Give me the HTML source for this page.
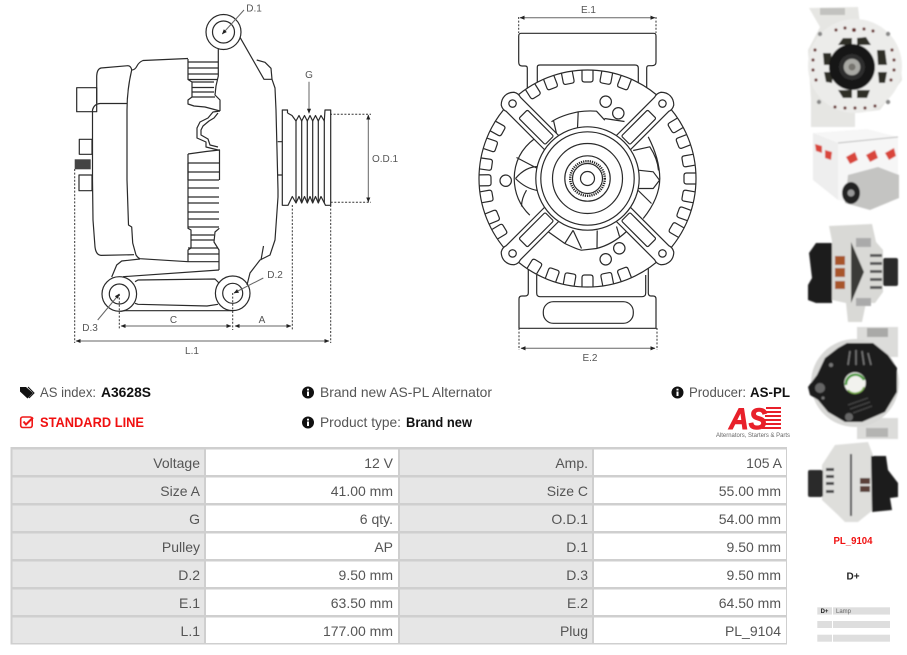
<!DOCTYPE html>
<html><head><meta charset="utf-8"><style>
html,body{margin:0;padding:0;background:#fff;width:907px;height:655px;overflow:hidden}
svg{display:block;font-family:"Liberation Sans",Arial,sans-serif}
.o{fill:none;stroke:#2a2a2a;stroke-width:1.2;stroke-linejoin:round}
.w{fill:#fff;stroke:#2a2a2a;stroke-width:1.2;stroke-linejoin:round}
.d{fill:none;stroke:#333;stroke-width:1;stroke-dasharray:2 1.6}
.a{fill:none;stroke:#666;stroke-width:1;marker-start:url(#ar);marker-end:url(#ar)}
.l{fill:#555;font-size:10px;text-anchor:middle}
.t{fill:#555;font-size:14px;text-anchor:end}
.i{fill:#555;font-size:14px}
.b{fill:#111;font-size:14px;font-weight:bold}
</style></head><body>
<svg width="907" height="655" viewBox="0 0 907 655" xmlns="http://www.w3.org/2000/svg">
<defs>
<marker id="ar" viewBox="0 0 6 6" refX="5.5" refY="3" markerWidth="5" markerHeight="5" markerUnits="userSpaceOnUse" orient="auto-start-reverse"><path d="M0,0.5L6,3L0,5.5z" fill="#222"/></marker>
<marker id="ar1" viewBox="0 0 6 6" refX="5.5" refY="3" markerWidth="5" markerHeight="5" markerUnits="userSpaceOnUse" orient="auto"><path d="M0,0.5L6,3L0,5.5z" fill="#222"/></marker>
<path id="tooth" class="o" d="M-5.5,-108V-99Q-5.5,-96.5-3,-96.5H3Q5.5,-96.5,5.5,-99V-108"/>
<g id="arm"><path class="w" d="M48,-10H105Q109,-11.5 113,-9Q117,-5 117,0Q117,5 113,9Q109,11.5 105,10H48z"/><circle class="o" cx="106" cy="0" r="3.7"/><rect class="o" x="54" y="-6" width="37" height="12" rx="1.5"/></g>
<filter id="bl"><feGaussianBlur stdDeviation="0.7"/></filter>
</defs>

<!-- LEFT DIAGRAM -->
<g>
<rect class="o" x="76.7" y="87.7" width="20" height="24"/>
<rect class="o" x="79.3" y="139.3" width="12.7" height="15"/>
<rect x="74.7" y="159.3" width="16" height="10" fill="#444"/>
<rect class="o" x="79" y="175" width="13" height="15.7"/>
<path class="o" d="M96.7,103V76Q97,69 101,68L128,65.7Q131,66 131.7,70Q135,70 137,66Q139,62 143,60.5L188,58.5"/>
<path class="o" d="M131.7,70Q127,90 127,110V180L128.5,225L131.7,227L132.7,243L136,255Q138,258 140,258.7L188,261.7"/>
<path class="o" d="M127,103.5H100Q94,104 92.5,110V180L93,220L95,247Q96,255 101,255.4L134,254.7"/>
<path class="o" d="M218.3,48V76L216,86L215,95L220,100V111"/>
<path class="o" d="M188,59V79.5L192,82V97L188,100V104L194,106L205,107L220,111"/>
<path class="o" d="M188,62H218M188,68H218M188,74H218M188,79.5H217M192,82H214M192,87.5H214M192,92H214M192,97H215"/>
<path class="o" d="M220,111L213,112L208,118L200,122L197,128V138L206,142V147L218,150H220"/>
<path class="o" d="M218,113L214,118L209,121L203,126L201,130V135L208,139L210,145L218,147"/>
<path class="o" d="M188,154L206,151.5L219.5,150V180"/>
<path class="o" d="M188,154V228.3L191,230V248L188,250V261.7M219.3,228.3L215,232L214,242L219,250V270"/>
<path class="o" d="M188,163H219M188,172H219M188,180H219M188,188H219M188,197H219M188,203H219M188,212H219M188,219H219M188,227H219M191,235H214M191,240H214M188,248H218M188,254H219M188,261.7H219M188,180V163"/>
<path class="o" d="M219,270L123,276.7"/>
<path class="o" d="M140,259L121.7,261L116.7,265L111.7,277"/>
<path class="o" d="M135,281.7L138,280L215,279L219,283M135,303.3L138,304.3L207,306L218,304.3M123,310.7H231.7"/>
<circle class="w" cx="119.3" cy="294" r="17.3"/><circle class="o" cx="119.3" cy="294" r="10"/>
<circle class="w" cx="232.7" cy="293.3" r="17.3"/><circle class="o" cx="232.7" cy="293.3" r="10"/>
<circle class="w" cx="223.5" cy="32" r="17.5"/><circle class="o" cx="223.5" cy="32" r="11"/>
<path class="o" d="M240,37.3L264,79.3H272L271,68.3L265,62.3L256.7,60M272,79.3L275,88L276,110L278,190L278,197L275,240L270,255L260,260L250,273L247,285M263.5,246L261,260"/>
<path class="o" d="M277.7,141.7H282.3M277.7,175H282.3"/>
<path class="o" d="M287.5,113L287.5,110H282.3V205.3H288L292.3,196.5L296,203L299,196.5L301.7,203L304.5,196.5L307.3,203L310,196.5L312.7,203L315.5,196.5L318.3,203L321,196.5L324.3,203L325.5,205.3H330.7V110H325L324.3,121L321,115.5L318.3,121L315.5,115.5L312.7,121L310,115.5L307.3,121L304.5,115.5L301.7,121L299,115.5L296,121L292,115.5L287.5,113"/>
<path class="o" d="M296,121V203M301.7,121V203M307.3,121V203M312.7,121V203M318.3,121V203M324.3,121V203"/>
<path class="d" d="M74.7,169V343M330.7,205V343M292.3,205V330M119.3,294V329M232.7,293V330M330,114.3H371M330.7,202.3H371"/>
<path class="a" d="M121,326H231"/><path class="a" d="M235,326H291"/><path class="a" d="M76,341H329"/>
<path class="a" d="M368.3,115V202"/>
<path fill="none" stroke="#666" d="M309,81.7V113.3" marker-end="url(#ar1)"/>
<path fill="none" stroke="#666" d="M244,10L222.3,34" marker-end="url(#ar1)"/>
<path fill="none" stroke="#666" d="M263.3,278L234,293" marker-end="url(#ar1)"/>
<path fill="none" stroke="#666" d="M97.7,320L119.3,294" marker-end="url(#ar1)"/>
<text class="l" x="254" y="11.5">D.1</text><text class="l" x="309" y="78">G</text>
<text class="l" x="385" y="162">O.D.1</text><text class="l" x="275" y="278">D.2</text>
<text class="l" x="90" y="331">D.3</text><text class="l" x="173.5" y="323">C</text>
<text class="l" x="262" y="323">A</text><text class="l" x="192" y="354">L.1</text>
</g>

<!-- RIGHT DIAGRAM -->
<g>
<path class="o" d="M527.3,90V68Q527.3,66 525,66H522Q518.7,66 518.7,62V36Q518.7,33.3 521,33.3H654Q656,33.3 656,36V62Q656,65.7 652,65.7H649Q646.7,65.7 646.7,68V90"/>
<path class="o" d="M537.3,85V67Q537.3,65 540,65H635Q638.3,65 638.3,68V85"/>
<path class="o" d="M528.3,268V293Q528.3,296 525,296H522Q519,296 519,299V328.3H656V299Q656,296 653,296H651Q648.3,296 648.3,293V268"/>
<path class="o" d="M536.7,275V293Q536.7,296.7 540,296.7H642Q645.7,296.7 645.7,293V275"/>
<rect class="o" x="543.3" y="301.7" width="90" height="21.6" rx="10"/>
<path class="d" d="M518.7,17V33M656,17V33M519,328V350M657,328V350"/>
<path class="a" d="M520,17.7H655"/><path class="a" d="M521,348.3H655"/>
<text class="l" x="588.5" y="13">E.1</text><text class="l" x="590" y="361">E.2</text>
<g transform="translate(587.5,178.5)">
<circle class="w" r="108.5"/>
<use href="#tooth" transform="rotate(-32)"/><use href="#tooth" transform="rotate(-21)"/><use href="#tooth" transform="rotate(-11)"/><use href="#tooth"/><use href="#tooth" transform="rotate(10.5)"/><use href="#tooth" transform="rotate(21)"/>
<use href="#tooth" transform="rotate(211)"/><use href="#tooth" transform="rotate(200)"/><use href="#tooth" transform="rotate(190)"/><use href="#tooth" transform="rotate(180)"/><use href="#tooth" transform="rotate(169)"/><use href="#tooth" transform="rotate(159)"/>
<use href="#tooth" transform="rotate(-61)"/><use href="#tooth" transform="rotate(-71)"/><use href="#tooth" transform="rotate(-82)"/><use href="#tooth" transform="rotate(-91)"/><use href="#tooth" transform="rotate(-100)"/><use href="#tooth" transform="rotate(-112)"/><use href="#tooth" transform="rotate(-121)"/>
<use href="#tooth" transform="rotate(59)"/><use href="#tooth" transform="rotate(69)"/><use href="#tooth" transform="rotate(80)"/><use href="#tooth" transform="rotate(90)"/><use href="#tooth" transform="rotate(100)"/><use href="#tooth" transform="rotate(110)"/><use href="#tooth" transform="rotate(120)"/>
<circle class="o" cx="18.2" cy="-76.8" r="5.7"/><circle class="o" cx="30.8" cy="-65.2" r="5.7"/><circle class="o" cx="-81.8" cy="2.2" r="5.7"/><circle class="o" cx="31.8" cy="69.8" r="5.7"/><circle class="o" cx="18.2" cy="80.8" r="5.7"/>
<!-- fan -->
<path class="o" d="M-52.7,-40Q-73,-25-73.3,0Q-73,22-57.7,36.7M-71,-21L-50,-10M-72,0Q-62,-12-49,-12M-72,0Q-62,10-50,12M-61,11.7Q-66,20-66,28"/>
<path class="o" d="M60.7,-41.7Q72,-20 72.3,0Q72,20 55.7,40M45.7,-28L62.3,-31.7Q70,-20 71,-8M50.7,-8.3L65.7,-6.7L72,1.7L65.7,10L50.7,10M50.7,12L64,25"/>
<path class="o" d="M-36,-56.7Q-27,-63-9.3,-66.7Q0,-68 9,-67.3L17.3,-58.3M-9.3,-66.7L-10,-50M-34,-58L-31,-45M17,-60L37,-57"/>
<path class="o" d="M-39.3,53.3L-22.7,65Q-10,71-6,71.7L9,70Q25,66 39,53M-14.3,51.7L-22.7,65M-14.3,52L-6,70M9.5,70L9.7,52M29,48L32,58"/>
<use href="#arm" transform="rotate(-135)"/><use href="#arm" transform="rotate(-45)"/><use href="#arm" transform="rotate(45)"/><use href="#arm" transform="rotate(135)"/>
<circle class="w" r="51.7"/><circle class="o" r="46.7"/><circle class="o" r="35"/><circle class="o" r="22.7"/>
<circle r="17.3" fill="none" stroke="#222" stroke-width="2.4" stroke-dasharray="1.2 1"/>
<circle class="o" r="15"/><circle class="o" r="7"/>
</g>
</g>

<!-- PHOTOS -->
<g filter="url(#bl)">
<!-- photo 1 -->
<path d="M809,8L858,7L860,24L900,55L902,80L880,110L855,113V127H811V100L808,50L820,27z" fill="#e6e6e3"/>
<circle cx="855" cy="66" r="47" fill="#ececea"/>
<rect x="820" y="8" width="25" height="7" fill="#c2c2bf"/>
<g fill="#2f2d28"><path d="M838,45L843,38L852,38V45z"/><path d="M857,38L866,37L871,45H857z"/><path d="M823,53H831L832,65H824z"/><path d="M824,72H833L832,83L826,82z"/><path d="M877,50H885L887,65H878z"/><path d="M878,72H887L885,83H879z"/><path d="M838,90H852V98H843z"/><path d="M857,90H870L867,98H857z"/></g>
<circle cx="852" cy="67" r="23" fill="#121212"/><circle cx="852" cy="67" r="13" fill="#2e2e2e"/><circle cx="852" cy="67" r="8.3" fill="#a9a9a4"/><circle cx="852" cy="67" r="3.5" fill="#77756f"/>
<g fill="#888"><circle cx="820" cy="34" r="2.2"/><circle cx="888" cy="34" r="2.2"/><circle cx="819" cy="102" r="2.2"/><circle cx="888" cy="102" r="2.2"/></g>
<g fill="#6b2f2a"><circle cx="836" cy="30" r="1.6"/><circle cx="845" cy="28" r="1.6"/><circle cx="854" cy="30" r="2"/><circle cx="864" cy="29" r="1.6"/><circle cx="873" cy="31" r="1.6"/><circle cx="815" cy="50" r="1.6"/><circle cx="813" cy="60" r="1.6"/><circle cx="813" cy="70" r="1.6"/><circle cx="816" cy="80" r="1.6"/><circle cx="892" cy="50" r="1.6"/><circle cx="894" cy="60" r="1.6"/><circle cx="894" cy="70" r="1.6"/><circle cx="891" cy="80" r="1.6"/><circle cx="835" cy="107" r="1.6"/><circle cx="845" cy="108" r="1.6"/><circle cx="855" cy="108" r="1.6"/><circle cx="865" cy="108" r="1.6"/><circle cx="875" cy="106" r="1.6"/></g>
<!-- photo 2 -->
<path d="M813,133L867,129L898,137V182L865,205L838,200L813,180z" fill="#f6f6f6"/>
<path d="M813,133L838,143V200L813,180z" fill="#eeeeee"/>
<path d="M838,143L898,137" stroke="#bbb" fill="none"/>
<g fill="#d9453a"><path d="M846,157L855,152L858,160L850,164z"/><path d="M866,155L875,150L878,158L870,162z"/><path d="M885,153L894,148L896,156L889,160z"/><path d="M815,144L822,146L822,153L816,151z"/><path d="M825,150L832,152L831,160L825,158z"/></g>
<path d="M848,175L878,167L899,175V198L870,210L845,203z" fill="#c4c4c2"/>
<ellipse cx="851" cy="193" rx="9" ry="11" fill="#222"/><circle cx="851" cy="193" r="3.5" fill="#999"/>
<!-- photo 3 -->
<path d="M829,226L872,224L876,242L883,250V292L875,303H866L862,322H848L846,303L832,300V241z" fill="#d9d9d6"/>
<path d="M809,253L816,243H832V303H816L808,300V285L812,278z" fill="#1c1c1c"/>
<rect x="883" y="258" width="15" height="28" rx="2" fill="#2c2c2c"/>
<path d="M851,242V303L864,272z" fill="#3a3a38"/>
<g fill="#a8552c"><rect x="835" y="256" width="10" height="9"/><rect x="835" y="268" width="10" height="9"/><rect x="835" y="281" width="10" height="8"/></g>
<g fill="#555"><rect x="870" y="254" width="12" height="3"/><rect x="870" y="262" width="12" height="3"/><rect x="870" y="270" width="12" height="3"/><rect x="870" y="278" width="12" height="3"/><rect x="870" y="286" width="12" height="3"/></g>
<rect x="856" y="238" width="15" height="9" fill="#aaa"/><rect x="856" y="298" width="15" height="8" fill="#aaa"/>
<!-- photo 4 -->
<rect x="857" y="327" width="41" height="30" fill="#dcdcda"/><rect x="867" y="328" width="21" height="9" fill="#a9a9a7"/>
<rect x="857" y="418" width="41" height="21" fill="#dcdcda"/><rect x="866" y="428" width="22" height="9" fill="#b4b4b2"/>
<circle cx="855" cy="383" r="44" fill="#d8d8d6"/>
<path d="M808,387L817,375L825,358L838,348L847,343L873,343L888,355L897,368L897,392L885,412L862,422L845,422L828,412L818,400L810,395z" fill="#1c1c1c"/>
<circle cx="855" cy="383" r="10.7" fill="#f2f2ee"/><path d="M846,385A9.5,9.5 0 0 1 864,380" fill="none" stroke="#4a9a3a" stroke-width="2.5"/><path d="M864,387A9.5,9.5 0 0 1 848,390" fill="none" stroke="#7ab04a" stroke-width="1.5"/>
<circle cx="820" cy="388" r="5" fill="#666"/><circle cx="849" cy="417" r="4" fill="#666"/><circle cx="823" cy="398" r="1.5" fill="#777"/><circle cx="831" cy="365" r="2" fill="#777"/>
<path d="M850,351L848,365M856,350V365M862,351L864,365M868,353L871,365" stroke="#777" stroke-width="1.5" fill="none"/>
<path d="M848,405L868,398M850,409L870,402M853,413L872,406" stroke="#444" stroke-width="1.2" fill="none"/>
<!-- photo 5 -->
<path d="M835,445L868,442L873,455V510L858,522H845L838,515L822,500V465z" fill="#dededb"/>
<rect x="808" y="470" width="15" height="27" rx="2" fill="#2a2a2a"/>
<path d="M871,456H886L888,470L898,483V497L890,498L892,510L872,512z" fill="#1e1e1e"/>
<rect x="850" y="454" width="2" height="62" fill="#444"/>
<g fill="#5a4038"><rect x="860" y="478" width="10" height="6"/><rect x="860" y="486" width="10" height="6"/></g>
<g fill="#444"><rect x="826" y="468" width="8" height="3"/><rect x="826" y="475" width="8" height="3"/><rect x="826" y="482" width="8" height="3"/><rect x="826" y="490" width="8" height="3"/></g>
</g>
<text x="853" y="544" fill="#f01010" font-size="10.5" font-weight="bold" text-anchor="middle" textLength="39" lengthAdjust="spacingAndGlyphs">PL_9104</text>
<text x="853" y="579.5" fill="#222" font-size="10" font-weight="bold" text-anchor="middle">D+</text>
<g fill="#dedede"><rect x="817.3" y="607.3" width="14.7" height="7.3"/><rect x="833" y="607.3" width="57" height="7.3"/><rect x="817.3" y="621" width="14.7" height="7"/><rect x="833" y="621" width="57" height="7"/><rect x="817.3" y="634.7" width="14.7" height="7"/><rect x="833" y="634.7" width="57" height="7"/></g>
<text x="824.5" y="613" fill="#222" font-size="6" font-weight="bold" text-anchor="middle">D+</text>
<text x="836" y="613" fill="#666" font-size="6">Lamp</text>

<!-- INFO ROWS -->
<path d="M20,387H26L33,393L27.5,398.5L20,391.5z" fill="#111"/>
<path d="M28,387L34,393L29,398" fill="none" stroke="#111"/>
<text class="i" x="40" y="397" textLength="56" lengthAdjust="spacingAndGlyphs">AS index:</text>
<text class="b" x="101" y="397" textLength="50" lengthAdjust="spacingAndGlyphs">A3628S</text>
<rect x="20.7" y="417" width="11.5" height="10.5" rx="2" fill="none" stroke="#f01818" stroke-width="1.6"/>
<path d="M23.5,421.5L26,424.5L33,417.5" fill="none" stroke="#f01818" stroke-width="2"/>
<text x="40" y="427" fill="#f01010" font-size="14" font-weight="bold" textLength="104" lengthAdjust="spacingAndGlyphs">STANDARD LINE</text>
<circle cx="308" cy="392.5" r="6" fill="#111"/><rect x="307" y="391.5" width="2" height="4.5" fill="#fff"/><rect x="307" y="388.7" width="2" height="1.8" fill="#fff"/>
<text class="i" x="320" y="397" textLength="172" lengthAdjust="spacingAndGlyphs">Brand new AS-PL Alternator</text>
<circle cx="308" cy="422.5" r="6" fill="#111"/><rect x="307" y="421.5" width="2" height="4.5" fill="#fff"/><rect x="307" y="418.7" width="2" height="1.8" fill="#fff"/>
<text class="i" x="320" y="427" textLength="81" lengthAdjust="spacingAndGlyphs">Product type:</text>
<text class="b" x="406" y="427" textLength="66" lengthAdjust="spacingAndGlyphs">Brand new</text>
<circle cx="677.5" cy="392.5" r="6" fill="#111"/><rect x="676.5" y="391.5" width="2" height="4.5" fill="#fff"/><rect x="676.5" y="388.7" width="2" height="1.8" fill="#fff"/>
<text class="i" x="689" y="397" textLength="57" lengthAdjust="spacingAndGlyphs">Producer:</text>
<text class="b" x="750" y="397" textLength="40" lengthAdjust="spacingAndGlyphs">AS-PL</text>
<!-- logo -->
<g fill="#e8202a"><rect x="766" y="407" width="15" height="2"/><rect x="766" y="411" width="15" height="2"/><rect x="765" y="415" width="16" height="2"/><rect x="764" y="419" width="17" height="2"/><rect x="763" y="423" width="18" height="2"/><rect x="762" y="427" width="19" height="2"/></g>
<text x="729" y="429" fill="#e8202a" stroke="#e8202a" stroke-width="1" font-size="30" font-weight="bold" font-style="italic" textLength="38" lengthAdjust="spacingAndGlyphs">AS</text>
<text x="716" y="437" fill="#666" font-size="6" textLength="74" lengthAdjust="spacingAndGlyphs">Alternators, Starters &amp; Parts</text>

<!-- TABLE -->
<rect x="10.5" y="447" width="776.5" height="197.5" fill="#cfcfcf"/>
<g fill="#e6e6e6"><rect x="12.5" y="449.5" width="191.5" height="25.5"/><rect x="12.5" y="477.5" width="191.5" height="25.5"/><rect x="12.5" y="505.5" width="191.5" height="25.5"/><rect x="12.5" y="533.5" width="191.5" height="25.5"/><rect x="12.5" y="561.5" width="191.5" height="25.5"/><rect x="12.5" y="589.5" width="191.5" height="25.5"/><rect x="12.5" y="617.5" width="191.5" height="25.5"/>
<rect x="400" y="449.5" width="192" height="25.5"/><rect x="400" y="477.5" width="192" height="25.5"/><rect x="400" y="505.5" width="192" height="25.5"/><rect x="400" y="533.5" width="192" height="25.5"/><rect x="400" y="561.5" width="192" height="25.5"/><rect x="400" y="589.5" width="192" height="25.5"/><rect x="400" y="617.5" width="192" height="25.5"/></g>
<g fill="#fff"><rect x="206" y="449.5" width="192" height="25.5"/><rect x="206" y="477.5" width="192" height="25.5"/><rect x="206" y="505.5" width="192" height="25.5"/><rect x="206" y="533.5" width="192" height="25.5"/><rect x="206" y="561.5" width="192" height="25.5"/><rect x="206" y="589.5" width="192" height="25.5"/><rect x="206" y="617.5" width="192" height="25.5"/>
<rect x="594" y="449.5" width="192" height="25.5"/><rect x="594" y="477.5" width="192" height="25.5"/><rect x="594" y="505.5" width="192" height="25.5"/><rect x="594" y="533.5" width="192" height="25.5"/><rect x="594" y="561.5" width="192" height="25.5"/><rect x="594" y="589.5" width="192" height="25.5"/><rect x="594" y="617.5" width="192" height="25.5"/></g>
<g>
<text class="t" x="200" y="468">Voltage</text><text class="t" x="393" y="468">12 V</text><text class="t" x="588" y="468">Amp.</text><text class="t" x="782" y="468">105 A</text>
<text class="t" x="200" y="496">Size A</text><text class="t" x="393" y="496">41.00 mm</text><text class="t" x="588" y="496">Size C</text><text class="t" x="781" y="496">55.00 mm</text>
<text class="t" x="200" y="524">G</text><text class="t" x="393" y="524">6 qty.</text><text class="t" x="588" y="524">O.D.1</text><text class="t" x="781" y="524">54.00 mm</text>
<text class="t" x="200" y="552">Pulley</text><text class="t" x="393" y="552">AP</text><text class="t" x="588" y="552">D.1</text><text class="t" x="781" y="552">9.50 mm</text>
<text class="t" x="200" y="580">D.2</text><text class="t" x="393" y="580">9.50 mm</text><text class="t" x="588" y="580">D.3</text><text class="t" x="781" y="580">9.50 mm</text>
<text class="t" x="200" y="608">E.1</text><text class="t" x="393" y="608">63.50 mm</text><text class="t" x="588" y="608">E.2</text><text class="t" x="781" y="608">64.50 mm</text>
<text class="t" x="200" y="636">L.1</text><text class="t" x="393" y="636">177.00 mm</text><text class="t" x="588" y="636">Plug</text><text class="t" x="781" y="636">PL_9104</text>
</g>
</svg>
</body></html>
